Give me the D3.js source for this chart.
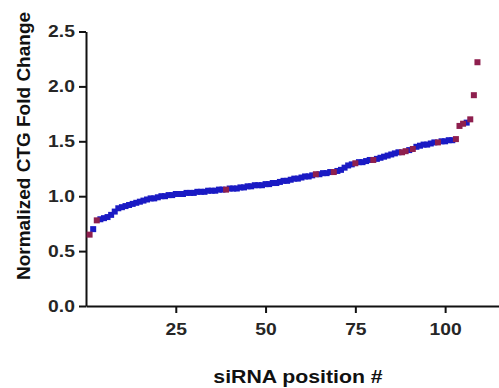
<!DOCTYPE html>
<html>
<head>
<meta charset="utf-8">
<script src="https://cdn.jsdelivr.net/npm/d3@7"></script>
<style>
  html, body { margin: 0; padding: 0; background: #fff; }
  svg { display: block; }
  text { font-family: "Liberation Sans", Arial, sans-serif; font-weight: bold; }
</style>
</head>
<body>
<svg id="chart" width="499" height="388"></svg>
<script>
// Normalized CTG fold change, ranked by siRNA position
const foldChange = [
  0.65, 0.70, 0.78, 0.79, 0.80, 0.81, 0.83, 0.86, 0.89, 0.90,
  0.91, 0.92, 0.93, 0.94, 0.95, 0.96, 0.97, 0.98, 0.98, 0.99,
  1.00, 1.00, 1.01, 1.01, 1.02, 1.02, 1.02, 1.03, 1.03, 1.03,
  1.04, 1.04, 1.04, 1.05, 1.05, 1.05, 1.06, 1.06, 1.06, 1.07,
  1.07, 1.07, 1.08, 1.08, 1.09, 1.09, 1.10, 1.10, 1.10, 1.11,
  1.11, 1.12, 1.12, 1.13, 1.14, 1.14, 1.15, 1.16, 1.16, 1.17,
  1.18, 1.18, 1.19, 1.20, 1.20, 1.21, 1.21, 1.22, 1.22, 1.23,
  1.24, 1.26, 1.28, 1.29, 1.30, 1.31, 1.31, 1.32, 1.33, 1.33,
  1.34, 1.35, 1.36, 1.37, 1.38, 1.39, 1.40, 1.40, 1.41, 1.42,
  1.43, 1.45, 1.46, 1.47, 1.47, 1.48, 1.49, 1.49, 1.50, 1.50,
  1.51, 1.51, 1.52, 1.64, 1.66, 1.67, 1.70, 1.92, 2.22
];
// positions highlighted in red
const highlighted = [1, 3, 39, 64, 69, 75, 80, 88, 89, 91, 98, 103, 104, 105, 107, 108, 109];
const xTicks = [25, 50, 75, 100];
const yTicks = [0.0, 0.5, 1.0, 1.5, 2.0, 2.5];

const points = foldChange.map((v, i) => ({ pos: i + 1, value: v, hi: highlighted.includes(i + 1) }));

const svg = d3.select("#chart");
const x = d3.scaleLinear().domain([0, 115]).range([86, 499]);
const y = d3.scaleLinear().domain([0, 2.5]).range([306, 31.5]);

// horizontal widening used for the bold labels
const widen = 1.17;

// x axis
const xAxis = svg.append("g")
  .attr("transform", `translate(0,${y(0)})`)
  .call(d3.axisBottom(x).tickValues(xTicks).tickSize(7).tickPadding(10).tickSizeOuter(0));
// y axis
const yAxis = svg.append("g")
  .attr("transform", `translate(${x(0)},0)`)
  .call(d3.axisLeft(y).tickValues(yTicks).tickSize(7).tickPadding(2.5).tickSizeOuter(0)
    .tickFormat(d3.format(".1f")));

[xAxis, yAxis].forEach(g => {
  g.select(".domain").attr("stroke", "#111").attr("stroke-width", 2);
  g.selectAll(".tick line").attr("stroke", "#111").attr("stroke-width", 2);
  g.selectAll(".tick text")
    .attr("fill", "#262626")
    .attr("transform", `scale(${widen},1)`)
    .style("font-size", "16.5px")
    .style("font-weight", "bold");
});

// markers: blue squares, highlighted ones in dark red
const s = 6;
svg.append("g").selectAll("rect")
  .data(points.filter(d => !d.hi).concat(points.filter(d => d.hi)))
  .join("rect")
  .attr("x", d => x(d.pos) - s / 2)
  .attr("y", d => y(d.value) - s / 2)
  .attr("width", s)
  .attr("height", s)
  .attr("fill", d => d.hi ? "#8e1f4e" : "#1a1ac4");

// axis titles
svg.append("text")
  .attr("transform", `translate(298,383) scale(${widen - 0.05},1)`)
  .attr("text-anchor", "middle")
  .style("font-size", "19px")
  .attr("fill", "#111")
  .text("siRNA position #");

svg.append("text")
  .attr("transform", "translate(29.5,146) rotate(-90)")
  .attr("text-anchor", "middle")
  .style("font-size", "19px")
  .attr("fill", "#111")
  .text("Normalized CTG Fold Change");
</script>
</body>
</html>
